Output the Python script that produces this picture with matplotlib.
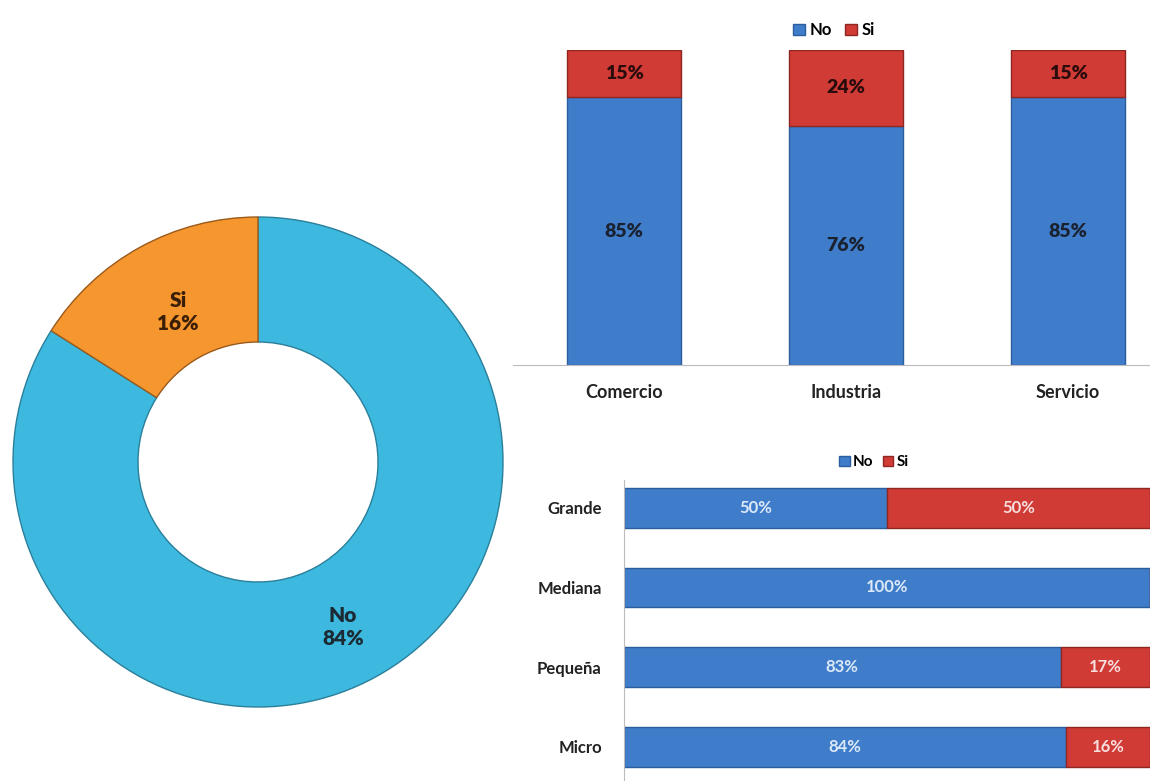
import numpy as np
import matplotlib
matplotlib.use('Agg')
import matplotlib.pyplot as plt

plt.rcParams['font.family'] = ['Lato', 'DejaVu Sans']
plt.rcParams['font.weight'] = 'bold'

# donut data
pie_labels = ['No', 'Si']
pie_values = [84, 16]

# sector bars
sectors = ['Comercio', 'Industria', 'Servicio']
sector_no = [85, 76, 85]
sector_si = [15, 24, 15]

# size bars
sizes = ['Micro', 'Pequeña', 'Mediana', 'Grande']
size_no = [84, 83, 100, 50]
size_si = [16, 17, 0, 50]

blue = '#3F7DCB'
red = '#D03B36'
cyan = '#3DB9E0'
orange = '#F6962F'

fig = plt.figure(figsize=(11.5, 7.81), dpi=100)

# donut
ax1 = fig.add_axes([8 / 1150, 1 - 712 / 781, 500 / 1150, 500 / 781])
wedges, _ = ax1.pie(pie_values, colors=[cyan, orange], startangle=90, counterclock=False,
                    radius=0.98, wedgeprops=dict(width=0.5, edgecolor='#2a7f9a', linewidth=1))
wedges[1].set_edgecolor('#9a5a1a')
ax1.set_xlim(-1, 1)
ax1.set_ylim(-1, 1)
ax1.set_aspect('auto')
ax1.text(0.34, -0.66, f'{pie_labels[0]}\n{pie_values[0]}%', ha='center', va='center',
         fontsize=15, fontweight='heavy', color='#1b2a33', linespacing=1.3)
ax1.text(-0.32, 0.6, f'{pie_labels[1]}\n{pie_values[1]}%', ha='center', va='center',
         fontsize=15, fontweight='heavy', color='#3a1e05', linespacing=1.3)

# vertical stacked bars
ax2 = fig.add_axes([513 / 1150, 1 - 365 / 781, 637 / 1150, 315 / 781])
x = np.arange(len(sectors))
no = np.array(sector_no) / 100
si = np.array(sector_si) / 100
ax2.bar(x, no, width=0.51, color=blue, edgecolor='#2c5d9c', linewidth=1, label='No')
ax2.bar(x, si, bottom=no, width=0.51, color=red, edgecolor='#8e2622', linewidth=1, label='Si')
for i in range(len(sectors)):
    ax2.text(x[i], no[i] / 2, f'{sector_no[i]}%', ha='center', va='center', fontsize=14,
             fontweight='heavy', color='#1a2230')
    ax2.text(x[i], no[i] + si[i] / 2, f'{sector_si[i]}%', ha='center', va='center', fontsize=14,
             fontweight='heavy', color='#2a0c0c')
ax2.set_xlim(-0.5, 2.5 - 29 / 222)
ax2.set_ylim(0, 1)
ax2.set_xticks(x)
ax2.set_xticklabels(sectors, fontsize=13, color='#222222')
ax2.tick_params(axis='x', length=0, pad=14)
ax2.set_yticks([])
for s in ['top', 'right', 'left']:
    ax2.spines[s].set_visible(False)
ax2.spines['bottom'].set_color('#bbbbbb')
ax2.legend(loc='lower center', bbox_to_anchor=(0.504, 1.0), ncol=2, frameon=False, fontsize=12,
           handlelength=0.7, handleheight=0.7, handletextpad=0.3, columnspacing=0.8, borderaxespad=0.3)

# horizontal stacked bars
ax3 = fig.add_axes([624 / 1150, 0, 526 / 1150, 301 / 781])
y = np.arange(len(sizes))
sno = np.array(size_no) / 100
ssi = np.array(size_si) / 100
ax3.barh(y, sno, height=0.5, color=blue, edgecolor='#2c5d9c', linewidth=1, label='No')
ax3.barh(y, ssi, left=sno, height=0.5, color=red, edgecolor='#8e2622', linewidth=1, label='Si')
for i in range(len(sizes)):
    ax3.text(sno[i] / 2, y[i], f'{size_no[i]}%', ha='center', va='center', fontsize=12, color='#dce9f8')
    if size_si[i] > 0:
        ax3.text(sno[i] + ssi[i] / 2, y[i], f'{size_si[i]}%', ha='center', va='center', fontsize=12,
                 color='#f8dede')
ax3.set_xlim(0, 1)
ax3.set_ylim(-0.43, 3.35)
ax3.set_yticks(y)
ax3.set_yticklabels(sizes, fontsize=12, color='#222222')
ax3.tick_params(axis='y', length=0, pad=16)
ax3.set_xticks([])
for s in ['top', 'right', 'bottom']:
    ax3.spines[s].set_visible(False)
ax3.spines['left'].set_color('#bbbbbb')
ax3.legend(loc='lower center', bbox_to_anchor=(0.475, 1.0), ncol=2, frameon=False, fontsize=11,
           handlelength=0.7, handleheight=0.7, handletextpad=0.2, columnspacing=0.6, borderaxespad=0.3)

fig.savefig('out.png', dpi=100)
